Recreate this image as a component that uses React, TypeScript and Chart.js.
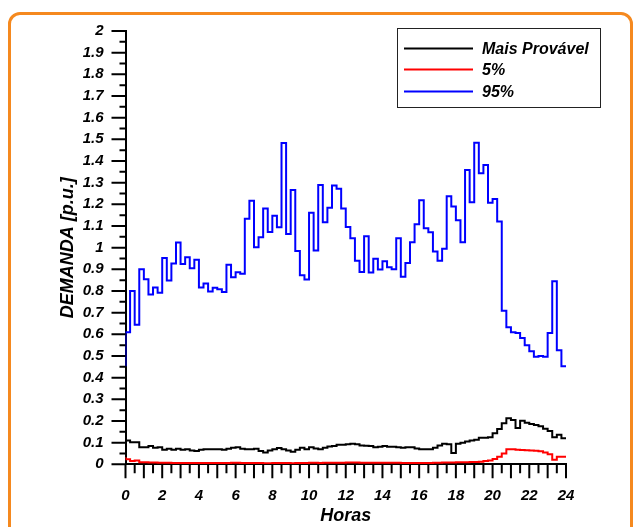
import { useEffect, useRef } from "react";
import { Chart, registerables } from "chart.js";

Chart.register(...registerables);

// 15-minute demand profile (p.u.), 96 intervals + closing value at 24 h
const MAIS_PROVAVEL = [
  0.12, 0.11, 0.102, 0.102, 0.079, 0.079, 0.084, 0.076, 0.079, 0.067, 0.072, 0.067,
  0.072, 0.067, 0.07, 0.064, 0.061, 0.067, 0.069, 0.069, 0.07, 0.07, 0.067, 0.072,
  0.076, 0.079, 0.072, 0.07, 0.069, 0.072, 0.061, 0.055, 0.064, 0.07, 0.075, 0.07,
  0.064, 0.058, 0.067, 0.076, 0.07, 0.079, 0.073, 0.07, 0.076, 0.082, 0.084, 0.09,
  0.09, 0.092, 0.095, 0.092, 0.087, 0.086, 0.084, 0.079, 0.081, 0.084, 0.081, 0.081,
  0.079, 0.076, 0.079, 0.079, 0.073, 0.07, 0.069, 0.07, 0.076, 0.087, 0.095, 0.092,
  0.052, 0.095, 0.1, 0.105, 0.11, 0.113, 0.122, 0.122, 0.125, 0.143, 0.163, 0.189,
  0.212, 0.205, 0.168, 0.201, 0.192, 0.186, 0.181, 0.176, 0.164, 0.154, 0.125, 0.136,
  0.12,
];

const P5 = [
  0.034, 0.023, 0.015, 0.018, 0.009, 0.009, 0.008, 0.008, 0.007, 0.007, 0.007, 0.006,
  0.006, 0.006, 0.006, 0.006, 0.006, 0.006, 0.006, 0.006, 0.006, 0.006, 0.006, 0.006,
  0.007, 0.007, 0.006, 0.006, 0.006, 0.006, 0.006, 0.005, 0.005, 0.006, 0.006, 0.006,
  0.006, 0.005, 0.006, 0.006, 0.006, 0.007, 0.007, 0.006, 0.007, 0.007, 0.007, 0.007,
  0.007, 0.008, 0.008, 0.008, 0.007, 0.007, 0.007, 0.007, 0.007, 0.007, 0.007, 0.007,
  0.007, 0.006, 0.006, 0.006, 0.006, 0.006, 0.006, 0.006, 0.007, 0.007, 0.008, 0.008,
  0.008, 0.009, 0.009, 0.009, 0.011, 0.011, 0.012, 0.015, 0.018, 0.024, 0.035, 0.05,
  0.07, 0.069, 0.067, 0.066, 0.065, 0.064, 0.062, 0.06, 0.055, 0.046, 0.021, 0.035,
  0.035,
];

const P95 = [
  0.453, 0.61, 0.8, 0.644, 0.9, 0.854, 0.784, 0.816, 0.792, 0.952, 0.848, 0.927,
  1.024, 0.924, 0.956, 0.905, 0.944, 0.816, 0.834, 0.798, 0.815, 0.808, 0.795, 0.921,
  0.863, 0.886, 0.88, 1.133, 1.216, 1.002, 1.048, 1.181, 1.072, 1.147, 1.094, 1.483,
  1.063, 1.266, 0.985, 0.873, 0.853, 1.161, 0.987, 1.289, 1.117, 1.184, 1.287, 1.272,
  1.181, 1.095, 1.043, 0.94, 0.888, 1.053, 0.885, 0.949, 0.899, 0.937, 0.909, 0.9,
  1.043, 0.866, 0.929, 1.025, 1.108, 1.219, 1.089, 1.071, 0.982, 0.94, 0.995, 1.237,
  1.19, 1.126, 1.025, 1.358, 1.21, 1.484, 1.343, 1.382, 1.207, 1.224, 1.121, 0.709,
  0.633, 0.609, 0.606, 0.583, 0.549, 0.522, 0.496, 0.5, 0.496, 0.606, 0.845, 0.526,
  0.453,
];

const HOURS = P95.map((_, i) => i * 0.25);
const X_MIN = 0;
const X_MAX = 24;
const Y_MIN = 0;
const Y_MAX = 2;

const SERIES = [
  { label: "Mais Provável", data: MAIS_PROVAVEL, color: "#000000" },
  { label: "5%", data: P5, color: "#ff0000" },
  { label: "95%", data: P95, color: "#0000ff" },
];

const FONT = "'Liberation Sans', Arial, sans-serif";

const axisTicksPlugin = {
  id: "axisTicks",
  afterDraw(chart: any) {
    const ctx = chart.ctx;
    const xs = chart.scales.x;
    const ys = chart.scales.y;
    const area = chart.chartArea;
    ctx.save();
    ctx.strokeStyle = "#000";
    ctx.lineWidth = 2;
    ctx.beginPath();
    for (let i = 0; i <= 48; i++) {
      const px = xs.getPixelForValue(i * 0.5);
      const len = i % 2 === 0 ? 14 : 9;
      ctx.moveTo(px, area.bottom);
      ctx.lineTo(px, area.bottom + len);
    }
    for (let i = 0; i <= 40; i++) {
      const py = ys.getPixelForValue(i * 0.05);
      const len = i % 2 === 0 ? 14 : 6;
      ctx.moveTo(area.left, py);
      ctx.lineTo(area.left - len, py);
    }
    ctx.stroke();

    // legend box
    const bx = 397.5, by = 28.5, bw = 203, bh = 79;
    ctx.fillStyle = "#fff";
    ctx.fillRect(bx, by, bw, bh);
    ctx.strokeStyle = "#222";
    ctx.lineWidth = 1;
    ctx.strokeRect(bx, by, bw, bh);
    const rows = [48.5, 69.5, 91.5];
    chart.data.datasets.forEach((ds: any, i: number) => {
      ctx.strokeStyle = ds.borderColor;
      ctx.lineWidth = 2;
      ctx.beginPath();
      ctx.moveTo(404, rows[i]);
      ctx.lineTo(473, rows[i]);
      ctx.stroke();
      ctx.fillStyle = "#000";
      ctx.font = `italic bold 16px ${FONT}`;
      ctx.textBaseline = "middle";
      ctx.textAlign = "left";
      ctx.fillText(ds.label, 482, rows[i] + 1);
    });
    ctx.restore();
  },
};

export default function App() {
  const ref = useRef<HTMLCanvasElement | null>(null);

  useEffect(() => {
    if (!ref.current) return;
    const chart = new Chart(ref.current, {
      type: "line",
      data: {
        datasets: SERIES.map((s) => ({
          label: s.label,
          data: s.data.map((v, i) => ({ x: HOURS[i], y: v })),
          borderColor: s.color,
          backgroundColor: s.color,
          borderWidth: 2,
          pointRadius: 0,
          stepped: "after" as const,
          fill: false,
        })),
      },
      options: {
        animation: false,
        responsive: true,
        maintainAspectRatio: false,
        layout: { padding: { top: 26, right: 72, left: 0, bottom: 0 } },
        plugins: {
          legend: { display: false },
          tooltip: { enabled: false },
        },
        scales: {
          x: {
            type: "linear",
            min: X_MIN,
            max: X_MAX,
            afterFit: (s: any) => {
              s.height = 62.7;
            },
            grid: { display: false, drawTicks: false },
            border: { display: true, color: "#000", width: 2 },
            ticks: {
              stepSize: 2,
              padding: 23,
              color: "#000",
              font: { family: FONT, size: 15, style: "italic", weight: "bold" },
              maxRotation: 0,
              autoSkip: false,
            },
            title: {
              display: true,
              text: "Horas",
              color: "#000",
              font: { family: FONT, size: 18, style: "italic", weight: "bold" },
              padding: { top: 0, bottom: 0 },
            },
          },
          y: {
            type: "linear",
            min: Y_MIN,
            max: Y_MAX,
            afterFit: (s: any) => {
              s.width = 125.5;
            },
            grid: { display: false, drawTicks: false },
            border: { display: true, color: "#000", width: 2 },
            ticks: {
              stepSize: 0.1,
              padding: 22,
              color: "#000",
              autoSkip: false,
              font: { family: FONT, size: 15, style: "italic", weight: "bold" },
              callback: (v: any) => String(Number(Number(v).toFixed(1))),
            },
            title: {
              display: true,
              text: "DEMANDA [p.u.]",
              color: "#000",
              font: { family: FONT, size: 18, style: "italic", weight: "bold" },
              padding: { top: 57, bottom: 0 },
            },
          },
        },
      },
      plugins: [axisTicksPlugin],
    });
    return () => chart.destroy();
  }, []);

  return (
    <div
      style={{
        position: "fixed",
        left: 0,
        top: 0,
        width: 638,
        height: 527,
        background: "#fff",
        overflow: "hidden",
      }}
    >
      <div
        style={{
          position: "absolute",
          left: 8,
          top: 12,
          width: 625,
          height: 540,
          border: "3px solid #f5891f",
          borderRadius: 12,
          boxSizing: "border-box",
        }}
      />
      <div style={{ position: "absolute", left: 0, top: 0, width: 638, height: 527 }}>
        <canvas ref={ref} />
      </div>
    </div>
  );
}
